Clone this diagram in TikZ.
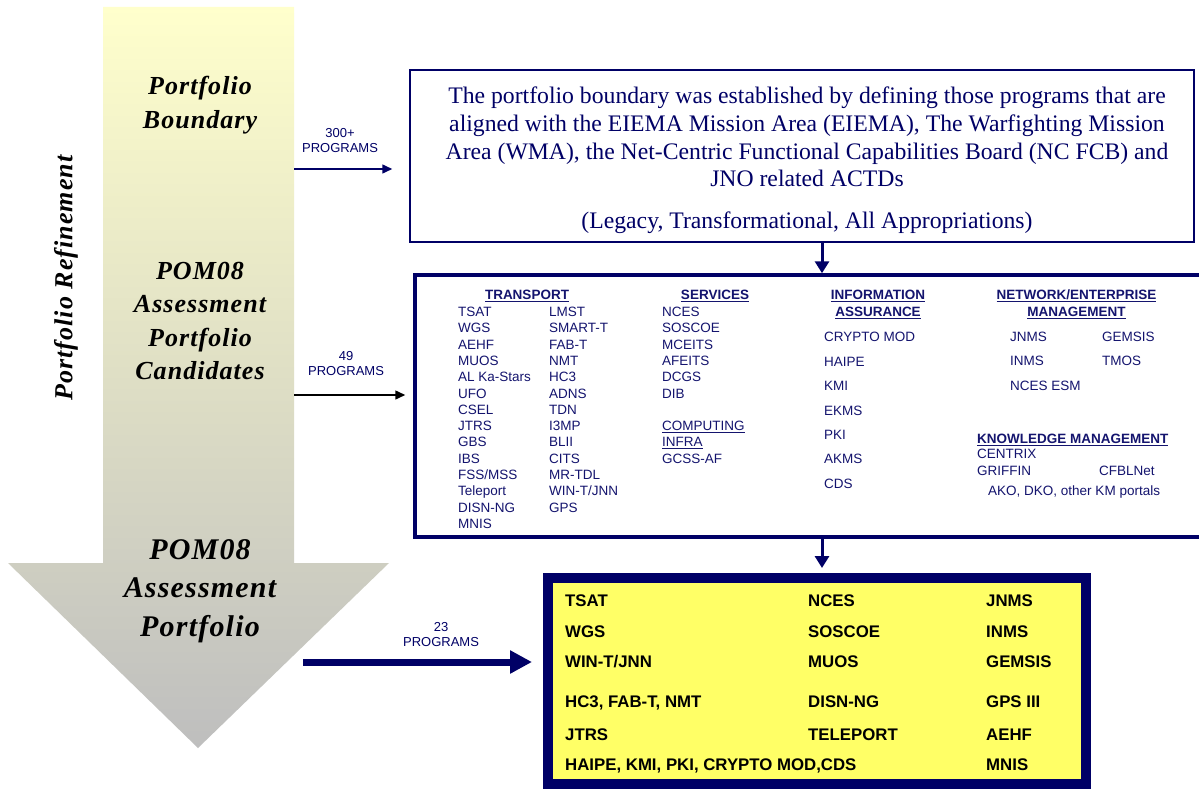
\documentclass[tikz,border=0pt]{standalone}
\usepackage{fontspec}
\setmainfont{Liberation Serif}
\newfontfamily\arial{Liberation Sans}
\newfontfamily\lblfont{Liberation Serif}[LetterSpace=4]
\usetikzlibrary{arrows.meta}
\definecolor{navy}{RGB}{0,0,102}
\definecolor{txt}{RGB}{20,20,110}
\definecolor{lyel}{RGB}{255,255,204}
\definecolor{lgray}{RGB}{190,190,190}
\definecolor{boxyel}{RGB}{255,255,102}
\begin{document}
\begin{tikzpicture}[x=1pt,y=-1pt,
 item/.style={font=\arial\fontsize{13.5}{15}\selectfont, text=txt, anchor=west, inner sep=0pt, text height=9.7pt, text depth=0pt},
 hdr/.style={font=\arial\bfseries\fontsize{13.5}{15}\selectfont, text=txt, anchor=center, inner sep=0pt, text height=9.7pt, text depth=0pt},
 bitem/.style={font=\arial\bfseries\fontsize{16.8}{19}\selectfont, text=black, anchor=west, inner sep=0pt, text height=12pt, text depth=0pt},
 lbl/.style={font=\lblfont\bfseries\itshape\fontsize{26}{33.5}\selectfont, align=center, inner sep=0pt},
 lblbig/.style={font=\lblfont\bfseries\itshape\fontsize{30}{38.5}\selectfont, align=center, inner sep=0pt},
 prog/.style={font=\arial\fontsize{13}{15}\selectfont, text=navy, align=center, inner sep=0pt},
 box/.style={draw=navy, rectangle, inner sep=0pt},
 conn/.style={navy, line width=3pt, -{Triangle[length=12pt,width=14pt]}},
]
\clip (0,0) rectangle (1199,789);
\fill[white] (0,0) rectangle (1199,789);

% big refinement arrow
\shade[top color=lyel, bottom color=lgray] (103,7) -- (294,7) -- (294,563) -- (389,563) -- (198,748) -- (8,563) -- (103,563) -- cycle;

\node[lbl, rotate=90] (pr) at (66,278) {Portfolio Refinement};
\node[lbl] (pb) at (200,105) {Portfolio\\Boundary};
\node[lbl] (pc) at (200,321) {POM08\\Assessment\\Portfolio\\Candidates};
\node[lblbig] (pa) at (200,591) {POM08\\Assessment\\Portfolio};

% boxes
\node[box, line width=1.5pt, minimum width=784pt, minimum height=172pt] (topbox) at (802,156) {};
\node[box, line width=3.5pt, minimum width=800pt, minimum height=262pt] (midbox) at (815,406) {};
\node[box, line width=10pt, fill=boxyel, minimum width=538pt, minimum height=206pt] (botbox) at (817,681) {};

% top box text
\node[font=\fontsize{23.7}{27.7}\selectfont, text=navy, align=center, inner sep=0pt] (tb1) at (807,137)
 {The portfolio boundary was established by defining those programs that are\\
  aligned with the EIEMA Mission Area (EIEMA), The Warfighting Mission\\
  Area (WMA), the Net-Centric Functional Capabilities Board (NC FCB) and\\
  JNO related ACTDs};
\node[font=\fontsize{23.7}{27.7}\selectfont, text=navy, inner sep=0pt] (tb2) at (807,223) {(Legacy, Transformational, All Appropriations)};

% connectors from the arrow
\coordinate (s1) at (294,169);
\coordinate (s2) at (294,395);
\coordinate (s3) at (303,662);
\coordinate (ax) at (822,0);
\draw[navy, line width=1.5pt, -{Triangle[length=10pt,width=9pt]}, shorten >=17pt] (s1) -- (s1 -| topbox.west);
\draw[black, line width=1.5pt, -{Triangle[length=10pt,width=9pt]}, shorten >=8pt] (s2) -- (s2 -| midbox.west);
\draw[navy, line width=7pt, -{Triangle[length=22pt,width=22pt]}, shorten >=11pt] (s3) -- (s3 -| botbox.west);
\node[prog] (l300) at (340,141) {300+\\PROGRAMS};
\node[prog] (l49) at (346,364) {49\\PROGRAMS};
\node[prog] (l23) at (441,635) {23\\PROGRAMS};

\draw[conn] (topbox.south -| ax) -- (midbox.north -| ax);
\draw[conn, shorten >=5pt] (midbox.south -| ax) -- (botbox.north -| ax);

% middle box: transport
\node[hdr] (htr) at (527,295) {\underline{TRANSPORT}};
\foreach \t [count=\i from 0] in {TSAT,WGS,AEHF,MUOS,AL Ka-Stars,UFO,CSEL,JTRS,GBS,IBS,FSS/MSS,Teleport,DISN-NG,MNIS}
  \node[item] (ta-\i) at (458,311.7+16.3*\i) {\t};
\foreach \t [count=\i from 0] in {LMST,SMART-T,FAB-T,NMT,HC3,ADNS,TDN,I3MP,BLII,CITS,MR-TDL,WIN-T/JNN,GPS}
  \node[item] (tb-\i) at (549,311.7+16.3*\i) {\t};
% services
\node[hdr] (hsv) at (715,295) {\underline{SERVICES}};
\foreach \t [count=\i from 0] in {NCES,SOSCOE,MCEITS,AFEITS,DCGS,DIB}
  \node[item] (sv-\i) at (662,311.7+16.3*\i) {\t};
\node[item] (sv-c) at (662,425.8) {\underline{COMPUTING}};
\node[item] (sv-i) at (662,442.1) {\underline{INFRA}};
\node[item] (sv-g) at (662,458.4) {GCSS-AF};
% information assurance
\node[hdr] (hia1) at (878,295) {\underline{INFORMATION}};
\node[hdr] (hia2) at (878,312) {\underline{ASSURANCE}};
\foreach \t [count=\i from 0] in {CRYPTO MOD,HAIPE,KMI,EKMS,PKI,AKMS,CDS}
  \node[item] (ia-\i) at (824,337+24.4*\i) {\t};
% network / enterprise management
\node[hdr] (hne1) at (1076.5,295) {\underline{NETWORK/ENTERPRISE}};
\node[hdr] (hne2) at (1076.5,312) {\underline{MANAGEMENT}};
\node[item] (ne-1) at (1010,337) {JNMS};
\node[item] (ne-2) at (1102,337) {GEMSIS};
\node[item] (ne-3) at (1010,361) {INMS};
\node[item] (ne-4) at (1102,361) {TMOS};
\node[item] (ne-5) at (1010,386) {NCES ESM};
% knowledge management
\node[hdr, anchor=west] (hkm) at (977,439) {\underline{KNOWLEDGE MANAGEMENT}};
\node[item] (km-1) at (977,454) {CENTRIX};
\node[item] (km-2) at (977,471) {GRIFFIN};
\node[item] (km-3) at (1099,471) {CFBLNet};
\node[item] (km-4) at (988,491) {AKO, DKO, other KM portals};

% bottom box
\foreach \t/\y [count=\i] in {TSAT/600,WGS/631,WIN-T\slash JNN/661,{HC3, FAB-T, NMT}/701,JTRS/734,{HAIPE, KMI, PKI, CRYPTO MOD,CDS}/764}
  \node[bitem] (ba-\i) at (565,\y) {\t};
\foreach \t/\y [count=\i] in {NCES/600,SOSCOE/631,MUOS/661,DISN-NG/701,TELEPORT/734}
  \node[bitem] (bb-\i) at (808,\y) {\t};
\foreach \t/\y [count=\i] in {JNMS/600,INMS/631,GEMSIS/661,GPS III/701,AEHF/734,MNIS/764}
  \node[bitem] (bc-\i) at (986,\y) {\t};
\end{tikzpicture}
\end{document}
